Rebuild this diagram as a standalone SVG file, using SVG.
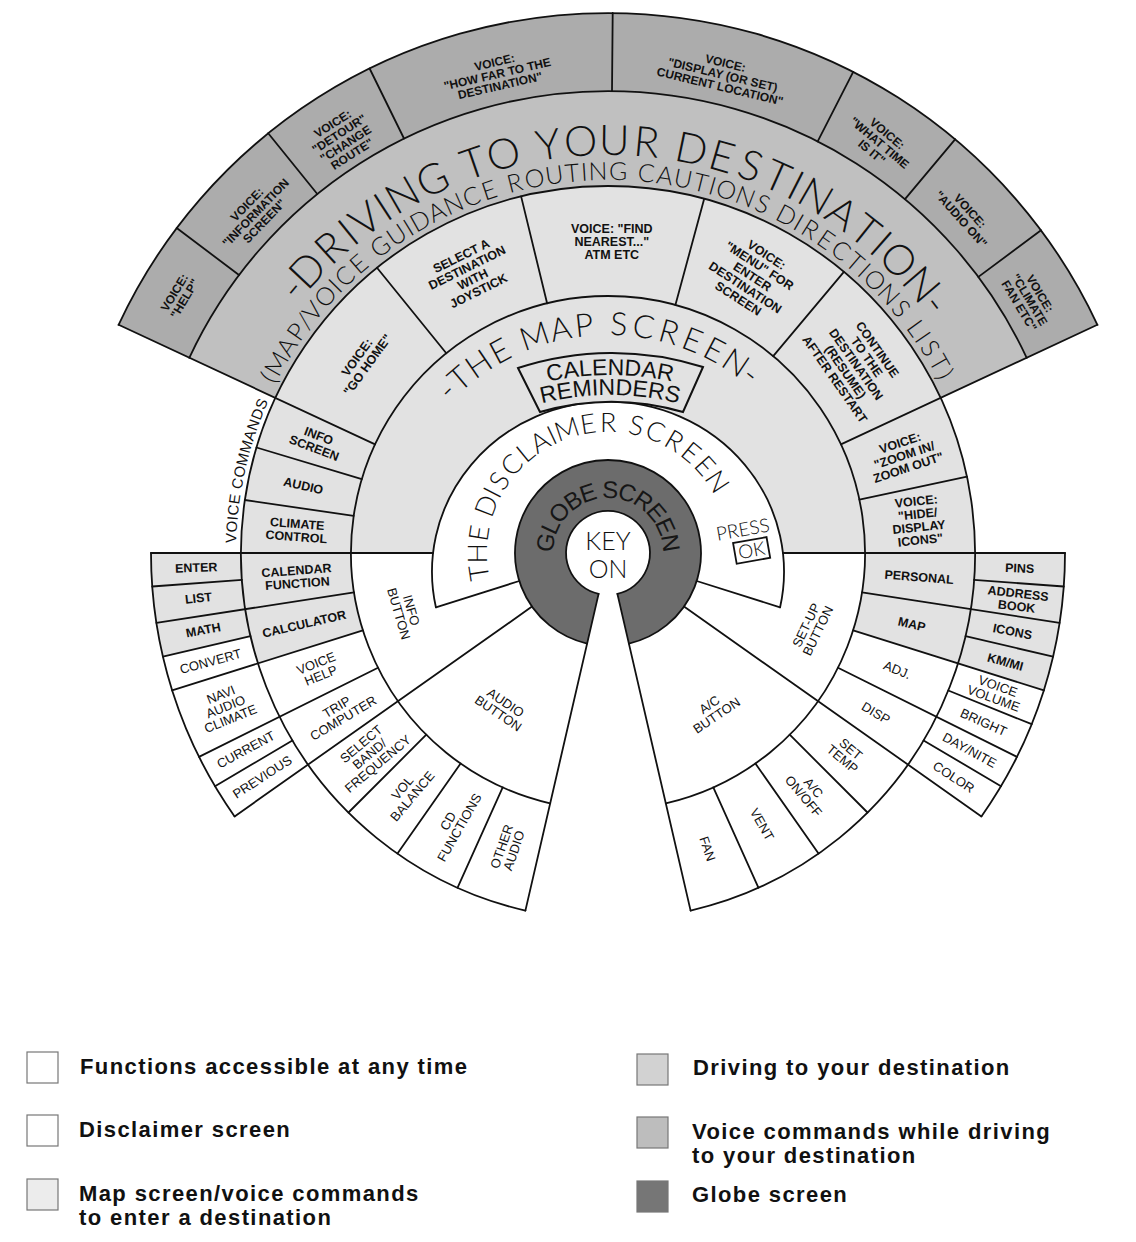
<svg xmlns="http://www.w3.org/2000/svg" width="1136" height="1242" viewBox="0 0 1136 1242">
<defs>
<style>
text{font-family:"Liberation Sans",Arial,sans-serif;fill:#111}
.b{font-size:12.5px;font-weight:bold;text-anchor:middle}
.r{font-size:13px;text-anchor:middle}
.vd{font-size:12px;font-weight:bold;text-anchor:middle}
.thin{font-family:Lato,"Liberation Sans",Arial,sans-serif;font-weight:300;text-anchor:middle}
.dr{font-size:42px}
.pa{font-size:25px}
.ms{font-size:32px}
.ds{font-size:27px}
.cal{font-size:23px;text-anchor:middle}
.gl{font-size:24px;text-anchor:middle;fill:#161616}
.vc{font-size:15px;text-anchor:middle}
.ln{fill:none;stroke:#111;stroke-width:1.8;stroke-linejoin:round;stroke-linecap:round}
.light{fill:#e2e2e2}
.drive{fill:#c0c0c0}
.voice{fill:#acacac}
.globe{fill:#6c6c6c}
.lg{font-size:22px;font-weight:bold;letter-spacing:1.4px}
.box{stroke:#777;stroke-width:1.2}
</style>
</defs>
<rect width="1136" height="1242" fill="#fff"/>

<g id="fills">
<path class="voice" d="M189.3,357.8 L118.6,324.8 A540 540 0 0 1 1097.4,324.8 L1026.7,357.8 A462 462 0 0 0 189.3,357.8Z"/>
<path class="drive" d="M275.4,397.9 L189.3,357.8 A462 462 0 0 1 1026.7,357.8 L940.6,397.9 A367 367 0 0 0 275.4,397.9Z"/>
<path class="light" d="M241,553 A367 367 0 0 1 975,553Z"/>
<path class="light" d="M362.9,630.3 L258,663.4 A367 367 0 0 1 241,553 L351,553 A257 257 0 0 0 362.9,630.3Z"/>
<path class="light" d="M250.5,636.2 L162.9,656.6 A457 457 0 0 1 151,553 L241,553 A367 367 0 0 0 250.5,636.2Z"/>
<path class="light" d="M865,553 L975,553 A367 367 0 0 1 958,663.4 L853.1,630.3 A257 257 0 0 0 865,553Z"/>
<path class="light" d="M975,553 L1065,553 A457 457 0 0 1 1043.9,690.4 L958,663.4 A367 367 0 0 0 975,553Z"/>
<path id="disclaimer" fill="#fff" d="M519.3,581 L435.9,607.3 A176 170 0 1 1 780.1,607.3 L696.7,581Z"/>
<path id="globe" class="globe" d="M587.1,643.6 A93 93 0 1 1 628.9,643.6 L617.4,593.9 A42 42 0 1 0 598.6,593.9Z"/>
<circle cx="608" cy="553" r="42" fill="#fff"/>
</g>

<g id="divisions" class="ln">
<path d="M118.6,324.8 A540 540 0 0 1 1097.4,324.8"/>
<path d="M189.3,357.8 A462 462 0 0 1 1026.7,357.8"/>
<path d="M525.4,910.6 A367 367 0 1 1 690.6,910.6"/>
<path d="M550.2,803.4 A257 257 0 1 1 665.8,803.4"/>
<path d="M234.6,816.4 A457 457 0 0 1 151,553"/>
<path d="M1065,553 A457 457 0 0 1 981.4,816.4"/>
<path d="M435.9,607.3 A176 170 0 1 1 780.1,607.3"/>
<path d="M587.1,643.6 A93 93 0 1 1 628.9,643.6"/>
<path d="M598.6,593.9 A42 42 0 1 1 617.4,593.9"/>
<path d="M375.1,444.4 L118.6,324.8 M840.9,444.4 L1097.4,324.8
M239,275 L176.7,228 M317.3,194 L268.2,133.3 M404,138.5 L369.6,68.5 M612,91 L612.7,13 M817.7,141.4 L853.2,71.9 M905,199.1 L955.1,139.3 M978.4,276.9 L1041,230.3
M353.7,515.9 L244.8,500 M361.8,479.1 L256.5,447.5 M446.3,353.3 L377,267.8 M547.1,303.3 L521.1,196.4 M675.4,305 L704.2,198.8 M773.2,356.1 L843.9,271.9 M859.4,499.6 L967,476.7
M974,579.9 L1063.8,586.5 M862,592.3 L1059.6,622.9 M965.5,636.2 L1053.1,656.6 M853.1,630.3 L1043.9,690.4 M948.3,690.5 L1031.7,724.2 M838,667.7 L1017,756.9 M923.6,740.4 L1001,786.3 M684,606.6 L981.4,816.4 M789.7,734.7 L867.5,812.5 M755.4,763.5 L818.5,853.6 M713.3,787.4 L758.4,887.7 M617.4,593.9 L690.6,910.6
M242,579.9 L152.2,586.5 M354,592.3 L156.4,622.9 M250.5,636.2 L162.9,656.6 M362.9,630.3 L172.1,690.4 M378,667.7 L199,756.9 M292.4,740.4 L215,786.3 M532,606.6 L234.6,816.4 M426.3,734.7 L348.5,812.5 M460.6,763.5 L397.5,853.6 M502.7,787.4 L457.6,887.7 M598.6,593.9 L525.4,910.6
M151,553 L433.1,553 M782.9,553 L1065,553
M519.3,581 L435.9,607.3 M696.7,581 L780.1,607.3"/>
</g>

<g id="calendar-reminders">
<path class="light" stroke="#111" stroke-width="2" d="M540,412 L518,368 A300 300 0 0 1 703,367 L683,412 A260 260 0 0 0 540,412Z"/>
<text class="cal" transform="translate(556,379.9) rotate(-10.36)">C</text>
<text class="cal" transform="translate(571.8,377.4) rotate(-7.31)">A</text>
<text class="cal" transform="translate(585.8,376) rotate(-4.63)">L</text>
<text class="cal" transform="translate(599.8,375.2) rotate(-1.94)">E</text>
<text class="cal" transform="translate(615.8,375.1) rotate(1.11)">N</text>
<text class="cal" transform="translate(632.4,375.8) rotate(4.28)">D</text>
<text class="cal" transform="translate(648.3,377.5) rotate(7.33)">A</text>
<text class="cal" transform="translate(664.1,379.9) rotate(10.38)">R</text>
<text class="cal" transform="translate(549.9,401.5) rotate(-12.4)">R</text>
<text class="cal" transform="translate(565.6,398.5) rotate(-9.13)">E</text>
<text class="cal" transform="translate(582.7,396.3) rotate(-5.6)">M</text>
<text class="cal" transform="translate(595.4,395.4) rotate(-2.99)">I</text>
<text class="cal" transform="translate(606.9,395) rotate(-0.64)">N</text>
<text class="cal" transform="translate(623.5,395.3) rotate(2.76)">D</text>
<text class="cal" transform="translate(639.4,396.5) rotate(6.03)">E</text>
<text class="cal" transform="translate(655.2,398.7) rotate(9.3)">R</text>
<text class="cal" transform="translate(670.9,401.7) rotate(12.56)">S</text>
</g>

<g id="driving-title">
<text class="thin dr" transform="translate(302.9,297.5) rotate(-50.05)">-</text>
<text class="thin dr" transform="translate(318.2,280.2) rotate(-46.72)">D</text>
<text class="thin dr" transform="translate(340.5,258.3) rotate(-42.21)">R</text>
<text class="thin dr" transform="translate(357.4,243.8) rotate(-39.04)">I</text>
<text class="thin dr" transform="translate(373.8,231.2) rotate(-36.04)">V</text>
<text class="thin dr" transform="translate(390.9,219.4) rotate(-33.04)">I</text>
<text class="thin dr" transform="translate(409.8,207.9) rotate(-29.87)">N</text>
<text class="thin dr" transform="translate(438.6,192.8) rotate(-25.19)">G</text>
<text class="thin dr" transform="translate(478.3,176.7) rotate(-19.02)">T</text>
<text class="thin dr" transform="translate(507.2,168) rotate(-14.67)">O</text>
<text class="thin dr" transform="translate(550.3,159.2) rotate(-8.33)">Y</text>
<text class="thin dr" transform="translate(581.5,155.9) rotate(-3.82)">O</text>
<text class="thin dr" transform="translate(614,155) rotate(0.86)">U</text>
<text class="thin dr" transform="translate(645.2,156.7) rotate(5.37)">R</text>
<text class="thin dr" transform="translate(688.7,163.3) rotate(11.7)">D</text>
<text class="thin dr" transform="translate(718,170.5) rotate(16.04)">E</text>
<text class="thin dr" transform="translate(745.6,179.5) rotate(20.22)">S</text>
<text class="thin dr" transform="translate(771.4,190.1) rotate(24.23)">T</text>
<text class="thin dr" transform="translate(789.1,198.6) rotate(27.06)">I</text>
<text class="thin dr" transform="translate(808.4,209.1) rotate(30.23)">N</text>
<text class="thin dr" transform="translate(833.8,225.3) rotate(34.57)">A</text>
<text class="thin dr" transform="translate(856.3,242) rotate(38.58)">T</text>
<text class="thin dr" transform="translate(871.4,254.6) rotate(41.42)">I</text>
<text class="thin dr" transform="translate(888.2,270.4) rotate(44.76)">O</text>
<text class="thin dr" transform="translate(910.3,294.1) rotate(49.43)">N</text>
<text class="thin dr" transform="translate(924.8,312.1) rotate(52.77)">-</text>
</g>

<g id="driving-subtitle">
<text class="thin pa" transform="translate(276.6,381.8) rotate(-62.68)">(</text>
<text class="thin pa" transform="translate(284,368.2) rotate(-60.3)">M</text>
<text class="thin pa" transform="translate(294.3,351.3) rotate(-57.28)">A</text>
<text class="thin pa" transform="translate(304,336.8) rotate(-54.58)">P</text>
<text class="thin pa" transform="translate(311.5,326.6) rotate(-52.63)">/</text>
<text class="thin pa" transform="translate(319.4,316.7) rotate(-50.68)">V</text>
<text class="thin pa" transform="translate(331.8,302.3) rotate(-47.76)">O</text>
<text class="thin pa" transform="translate(341.5,292) rotate(-45.6)">I</text>
<text class="thin pa" transform="translate(351,282.6) rotate(-43.54)">C</text>
<text class="thin pa" transform="translate(364.6,270.4) rotate(-40.73)">E</text>
<text class="thin pa" transform="translate(385.5,253.6) rotate(-36.61)">G</text>
<text class="thin pa" transform="translate(401.6,242.3) rotate(-33.6)">U</text>
<text class="thin pa" transform="translate(412.9,235.1) rotate(-31.54)">I</text>
<text class="thin pa" transform="translate(424.4,228.3) rotate(-29.48)">D</text>
<text class="thin pa" transform="translate(440.6,219.7) rotate(-26.67)">A</text>
<text class="thin pa" transform="translate(457.1,211.9) rotate(-23.87)">N</text>
<text class="thin pa" transform="translate(474.6,204.7) rotate(-20.96)">C</text>
<text class="thin pa" transform="translate(491.8,198.6) rotate(-18.15)">E</text>
<text class="thin pa" transform="translate(516.9,191.3) rotate(-14.14)">R</text>
<text class="thin pa" transform="translate(536.1,187) rotate(-11.12)">O</text>
<text class="thin pa" transform="translate(555.4,183.7) rotate(-8.1)">U</text>
<text class="thin pa" transform="translate(572.9,181.7) rotate(-5.4)">T</text>
<text class="thin pa" transform="translate(584.8,180.7) rotate(-3.56)">I</text>
<text class="thin pa" transform="translate(598.2,180.1) rotate(-1.5)">N</text>
<text class="thin pa" transform="translate(617.9,180.1) rotate(1.52)">G</text>
<text class="thin pa" transform="translate(645.3,181.9) rotate(5.74)">C</text>
<text class="thin pa" transform="translate(663.5,184.1) rotate(8.55)">A</text>
<text class="thin pa" transform="translate(681.4,187.3) rotate(11.35)">U</text>
<text class="thin pa" transform="translate(698.6,191.2) rotate(14.05)">T</text>
<text class="thin pa" transform="translate(710.2,194.3) rotate(15.9)">I</text>
<text class="thin pa" transform="translate(723.6,198.4) rotate(18.06)">O</text>
<text class="thin pa" transform="translate(742.2,205) rotate(21.08)">N</text>
<text class="thin pa" transform="translate(759.1,211.9) rotate(23.89)">S</text>
<text class="thin pa" transform="translate(782.5,223.3) rotate(27.9)">D</text>
<text class="thin pa" transform="translate(794.3,229.9) rotate(29.96)">I</text>
<text class="thin pa" transform="translate(805.8,236.8) rotate(32.01)">R</text>
<text class="thin pa" transform="translate(821,246.8) rotate(34.82)">E</text>
<text class="thin pa" transform="translate(835.7,257.5) rotate(37.63)">C</text>
<text class="thin pa" transform="translate(849.3,268.6) rotate(40.32)">T</text>
<text class="thin pa" transform="translate(858.5,276.6) rotate(42.17)">I</text>
<text class="thin pa" transform="translate(868.7,286.3) rotate(44.34)">O</text>
<text class="thin pa" transform="translate(882.3,300.2) rotate(47.35)">N</text>
<text class="thin pa" transform="translate(894.4,314.1) rotate(50.16)">S</text>
<text class="thin pa" transform="translate(909.2,333) rotate(53.85)">L</text>
<text class="thin pa" transform="translate(915.7,342.2) rotate(55.59)">I</text>
<text class="thin pa" transform="translate(922.8,352.9) rotate(57.55)">S</text>
<text class="thin pa" transform="translate(931.5,367.3) rotate(60.14)">T</text>
<text class="thin pa" transform="translate(937.6,378.5) rotate(62.09)">)</text>
</g>

<g id="map-screen-title">
<text class="thin ms" transform="translate(454.5,398.2) rotate(-44.74)">-</text>
<text class="thin ms" transform="translate(466.8,386.9) rotate(-40.37)">T</text>
<text class="thin ms" transform="translate(484.9,373.1) rotate(-34.38)">H</text>
<text class="thin ms" transform="translate(505.2,360.8) rotate(-28.14)">E</text>
<text class="thin ms" transform="translate(538.1,346.5) rotate(-18.71)">M</text>
<text class="thin ms" transform="translate(562.7,339.8) rotate(-12)">A</text>
<text class="thin ms" transform="translate(585.2,336.2) rotate(-6)">P</text>
<text class="thin ms" transform="translate(618.4,335.2) rotate(2.73)">S</text>
<text class="thin ms" transform="translate(642,337.7) rotate(8.97)">C</text>
<text class="thin ms" transform="translate(666,342.9) rotate(15.43)">R</text>
<text class="thin ms" transform="translate(688.5,350.4) rotate(21.67)">E</text>
<text class="thin ms" transform="translate(709.2,359.9) rotate(27.67)">E</text>
<text class="thin ms" transform="translate(729.6,372) rotate(33.9)">N</text>
<text class="thin ms" transform="translate(744.4,382.9) rotate(38.73)">-</text>
</g>

<g id="disclaimer-title">
<text class="thin ds" transform="translate(488.4,571.2) rotate(-98.64)">T</text>
<text class="thin ds" transform="translate(487,553.3) rotate(-90.12)">H</text>
<text class="thin ds" transform="translate(488.4,534.6) rotate(-81.25)">E</text>
<text class="thin ds" transform="translate(495.2,509.3) rotate(-68.82)">D</text>
<text class="thin ds" transform="translate(500.7,497) rotate(-62.43)">I</text>
<text class="thin ds" transform="translate(507.2,486) rotate(-56.39)">S</text>
<text class="thin ds" transform="translate(518.7,471.3) rotate(-47.52)">C</text>
<text class="thin ds" transform="translate(531.2,459.5) rotate(-39.35)">L</text>
<text class="thin ds" transform="translate(544.7,449.9) rotate(-31.54)">A</text>
<text class="thin ds" transform="translate(555.9,443.8) rotate(-25.5)">I</text>
<text class="thin ds" transform="translate(569.8,438.2) rotate(-18.4)">M</text>
<text class="thin ds" transform="translate(589.5,433.4) rotate(-8.81)">E</text>
<text class="thin ds" transform="translate(608.1,432) rotate(0.07)">R</text>
<text class="thin ds" transform="translate(634.2,434.9) rotate(12.5)">S</text>
<text class="thin ds" transform="translate(652.1,440.3) rotate(21.37)">C</text>
<text class="thin ds" transform="translate(669.6,448.9) rotate(30.6)">R</text>
<text class="thin ds" transform="translate(685,459.7) rotate(39.48)">E</text>
<text class="thin ds" transform="translate(697.9,472) rotate(48)">E</text>
<text class="thin ds" transform="translate(709.3,486.9) rotate(56.88)">N</text>
</g>

<g id="globe-title">
<text class="gl" transform="translate(553.8,543.7) rotate(-80.3)">G</text>
<text class="gl" transform="translate(558.1,529.9) rotate(-65.2)">L</text>
<text class="gl" transform="translate(565.8,517.7) rotate(-50.1)">O</text>
<text class="gl" transform="translate(577.6,507.2) rotate(-33.6)">B</text>
<text class="gl" transform="translate(590.5,500.8) rotate(-18.5)">E</text>
<text class="gl" transform="translate(609.9,498) rotate(2)">S</text>
<text class="gl" transform="translate(624.8,500.6) rotate(17.8)">C</text>
<text class="gl" transform="translate(639,507.6) rotate(34.3)">R</text>
<text class="gl" transform="translate(650.2,517.7) rotate(50.1)">E</text>
<text class="gl" transform="translate(657.9,529.9) rotate(65.2)">E</text>
<text class="gl" transform="translate(662.3,544.4) rotate(81)">N</text>
</g>

<g id="voice-commands-title">
<text class="vc" transform="translate(236.3,538.3) rotate(-87.73)">V</text>
<text class="vc" transform="translate(236.9,526.9) rotate(-85.98)">O</text>
<text class="vc" transform="translate(237.6,518.6) rotate(-84.69)">I</text>
<text class="vc" transform="translate(238.4,510.6) rotate(-83.46)">C</text>
<text class="vc" transform="translate(239.8,499.8) rotate(-81.77)">E</text>
<text class="vc" transform="translate(242.4,484.4) rotate(-79.37)">C</text>
<text class="vc" transform="translate(244.7,472.9) rotate(-77.56)">O</text>
<text class="vc" transform="translate(247.6,460.7) rotate(-75.63)">M</text>
<text class="vc" transform="translate(251.1,448.1) rotate(-73.62)">M</text>
<text class="vc" transform="translate(254.6,436.9) rotate(-71.81)">A</text>
<text class="vc" transform="translate(258.1,426.6) rotate(-70.13)">N</text>
<text class="vc" transform="translate(262.2,416) rotate(-68.39)">D</text>
<text class="vc" transform="translate(266.3,405.9) rotate(-66.71)">S</text>
</g>

<g id="key-on">
<text class="thin" font-size="25" x="608" y="550">KEY</text>
<text class="thin" font-size="25" x="608" y="578">ON</text>
</g>

<g id="press-ok" transform="translate(744,536) rotate(-10)">
<text class="thin" font-size="19" x="0" y="0">PRESS</text>
<rect x="-12" y="5" width="34" height="21" fill="none" stroke="#111" stroke-width="1.8"/>
<text class="thin" font-size="19" x="5" y="22">OK</text>
</g>

<g id="voice-driving-labels">
<text class="vd" transform="translate(179.4,295.5) rotate(-59)"><tspan x="0" y="-1.7">VOICE:</tspan><tspan x="0" dy="12">"HELP"</tspan></text>
<text class="vd" transform="translate(255.5,212.6) rotate(-46)"><tspan x="0" y="-7.7">VOICE:</tspan><tspan x="0" dy="12">"INFORMATION</tspan><tspan x="0" dy="12">SCREEN"</tspan></text>
<text class="vd" transform="translate(342.3,138.7) rotate(-32.7)"><tspan x="0" y="-13.7">VOICE:</tspan><tspan x="0" dy="12">"DETOUR"</tspan><tspan x="0" dy="12">"CHANGE</tspan><tspan x="0" dy="12">ROUTE"</tspan></text>
<text class="vd" transform="translate(497.3,73.8) rotate(-13)"><tspan x="0" y="-7.7">VOICE:</tspan><tspan x="0" dy="12">"HOW FAR TO THE</tspan><tspan x="0" dy="12">DESTINATION"</tspan></text>
<text class="vd" transform="translate(722.8,74.6) rotate(13.5)"><tspan x="0" y="-7.7">VOICE:</tspan><tspan x="0" dy="12">"DISPLAY (OR SET)</tspan><tspan x="0" dy="12">CURRENT LOCATION"</tspan></text>
<text class="vd" transform="translate(879.6,142.7) rotate(40)"><tspan x="0" y="-7.7">VOICE:</tspan><tspan x="0" dy="12">"WHAT TIME</tspan><tspan x="0" dy="12">IS IT"</tspan></text>
<text class="vd" transform="translate(965.7,215) rotate(48)"><tspan x="0" y="-1.7">VOICE:</tspan><tspan x="0" dy="12">"AUDIO ON"</tspan></text>
<text class="vd" transform="translate(1029.7,299.6) rotate(59)"><tspan x="0" y="-7.7">VOICE:</tspan><tspan x="0" dy="12">"CLIMATE</tspan><tspan x="0" dy="12">FAN ETC"</tspan></text>
</g>

<g id="map-voice-labels">
<text class="b" transform="translate(296.8,530.1) rotate(4.2)"><tspan x="0" y="-2">CLIMATE</tspan><tspan x="0" dy="13">CONTROL</tspan></text>
<text class="b" transform="translate(303.4,485.5) rotate(12.5)"><tspan x="0" y="4.5">AUDIO</tspan></text>
<text class="b" transform="translate(316.5,441.7) rotate(20.9)"><tspan x="0" y="-2">INFO</tspan><tspan x="0" dy="13">SCREEN</tspan></text>
<text class="b" transform="translate(362.1,360.9) rotate(-54)"><tspan x="0" y="-2">VOICE:</tspan><tspan x="0" dy="13">"GO HOME"</tspan></text>
<text class="b" transform="translate(469.8,273.2) rotate(-26.3)"><tspan x="0" y="-15">SELECT A</tspan><tspan x="0" dy="13">DESTINATION</tspan><tspan x="0" dy="13">WITH</tspan><tspan x="0" dy="13">JOYSTICK</tspan></text>
<text class="b" transform="translate(611.8,241)"><tspan x="0" y="-8.5">VOICE: "FIND</tspan><tspan x="0" dy="13">NEAREST..."</tspan><tspan x="0" dy="13">ATM ETC</tspan></text>
<text class="b" transform="translate(752.5,276.5) rotate(33)"><tspan x="0" y="-21.5">VOICE:</tspan><tspan x="0" dy="13">"MENU" FOR</tspan><tspan x="0" dy="13">ENTER</tspan><tspan x="0" dy="13">DESTINATION</tspan><tspan x="0" dy="13">SCREEN</tspan></text>
<text class="b" font-size="12" transform="translate(856.3,364.2) rotate(55)"><tspan x="0" y="-21.5">CONTINUE</tspan><tspan x="0" dy="13">TO THE</tspan><tspan x="0" dy="13">DESTINATION</tspan><tspan x="0" dy="13">(RESUME)</tspan><tspan x="0" dy="13">AFTER RESTART</tspan></text>
<text class="b" transform="translate(904.2,455) rotate(-18.3)"><tspan x="0" y="-8.5">VOICE:</tspan><tspan x="0" dy="13">"ZOOM IN/</tspan><tspan x="0" dy="13">ZOOM OUT"</tspan></text>
<text class="b" transform="translate(918.3,520.4) rotate(-6)"><tspan x="0" y="-15">VOICE:</tspan><tspan x="0" dy="13">"HIDE/</tspan><tspan x="0" dy="13">DISPLAY</tspan><tspan x="0" dy="13">ICONS"</tspan></text>
<text class="b" transform="translate(919.1,576.9) rotate(4.4)"><tspan x="0" y="4.5">PERSONAL</tspan></text>
<text class="b" transform="translate(911.8,624) rotate(13)"><tspan x="0" y="4.5">MAP</tspan></text>
<text class="b" transform="translate(296.9,576.7) rotate(-4.35)"><tspan x="0" y="-2">CALENDAR</tspan><tspan x="0" dy="13">FUNCTION</tspan></text>
<text class="b" transform="translate(304.1,623.7) rotate(-13.1)"><tspan x="0" y="4.5">CALCULATOR</tspan></text>
<text class="b" transform="translate(196.2,567.4) rotate(-2)"><tspan x="0" y="4.5">ENTER</tspan></text>
<text class="b" transform="translate(198.4,597.8) rotate(-6.25)"><tspan x="0" y="4.5">LIST</tspan></text>
<text class="b" transform="translate(203.2,629.8) rotate(-10.75)"><tspan x="0" y="4.5">MATH</tspan></text>
<text class="b" transform="translate(1019.7,568.1) rotate(2.1)"><tspan x="0" y="4.5">PINS</tspan></text>
<text class="b" transform="translate(1017.4,599.6) rotate(6.5)"><tspan x="0" y="-2">ADDRESS</tspan><tspan x="0" dy="13">BOOK</tspan></text>
<text class="b" transform="translate(1012.5,631.3) rotate(11)"><tspan x="0" y="4.5">ICONS</tspan></text>
<text class="b" transform="translate(1005.4,661.7) rotate(15.3)"><tspan x="0" y="4.5">KM/MI</tspan></text>
</g>

<g id="function-labels">
<text class="r" transform="translate(210.5,661.4) rotate(-15.25)"><tspan x="0" y="4.5">CONVERT</tspan></text>
<text class="r" transform="translate(225.7,706.7) rotate(-21.9)"><tspan x="0" y="-8.5">NAVI</tspan><tspan x="0" dy="13">AUDIO</tspan><tspan x="0" dy="13">CLIMATE</tspan></text>
<text class="r" transform="translate(245.9,749.6) rotate(-28.5)"><tspan x="0" y="4.5">CURRENT</tspan></text>
<text class="r" transform="translate(262.3,777) rotate(-33)"><tspan x="0" y="4.5">PREVIOUS</tspan></text>
<text class="r" transform="translate(318.5,669.4) rotate(-21.9)"><tspan x="0" y="-2">VOICE</tspan><tspan x="0" dy="13">HELP</tspan></text>
<text class="r" transform="translate(339.9,712.6) rotate(-30.75)"><tspan x="0" y="-2">TRIP</tspan><tspan x="0" dy="13">COMPUTER</tspan></text>
<text class="r" transform="translate(369.5,753.9) rotate(-40)"><tspan x="0" y="-8.5">SELECT</tspan><tspan x="0" dy="13">BAND/</tspan><tspan x="0" dy="13">FREQUENCY</tspan></text>
<text class="r" transform="translate(407.4,792) rotate(-50)"><tspan x="0" y="-2">VOL</tspan><tspan x="0" dy="13">BALANCE</tspan></text>
<text class="r" transform="translate(453.7,824.3) rotate(-60.35)"><tspan x="0" y="-2">CD</tspan><tspan x="0" dy="13">FUNCTIONS</tspan></text>
<text class="r" transform="translate(507.8,848.5) rotate(-71.25)"><tspan x="0" y="-2">OTHER</tspan><tspan x="0" dy="13">AUDIO</tspan></text>
<text class="r" transform="translate(897.3,669.9) rotate(22)"><tspan x="0" y="4.5">ADJ.</tspan></text>
<text class="r" transform="translate(875.9,713) rotate(31)"><tspan x="0" y="4.5">DISP</tspan></text>
<text class="r" transform="translate(846.6,754) rotate(40)"><tspan x="0" y="-2">SET</tspan><tspan x="0" dy="13">TEMP</tspan></text>
<text class="r" transform="translate(808.5,792) rotate(50)"><tspan x="0" y="-2">A/C</tspan><tspan x="0" dy="13">ON/OFF</tspan></text>
<text class="r" transform="translate(762,824.3) rotate(60.4)"><tspan x="0" y="4.5">VENT</tspan></text>
<text class="r" transform="translate(707.5,848.7) rotate(71.4)"><tspan x="0" y="4.5">FAN</tspan></text>
<text class="r" transform="translate(995.7,692.2) rotate(19.75)"><tspan x="0" y="-2">VOICE</tspan><tspan x="0" dy="13">VOLUME</tspan></text>
<text class="r" transform="translate(983.6,722.2) rotate(24.25)"><tspan x="0" y="4.5">BRIGHT</tspan></text>
<text class="r" transform="translate(969.6,750.2) rotate(28.6)"><tspan x="0" y="4.5">DAY/NITE</tspan></text>
<text class="r" transform="translate(953.7,777.1) rotate(33)"><tspan x="0" y="4.5">COLOR</tspan></text>
<text class="r" transform="translate(405,612) rotate(74)"><tspan x="0" y="-2">INFO</tspan><tspan x="0" dy="13">BUTTON</tspan></text>
<text class="r" transform="translate(502,708) rotate(34)"><tspan x="0" y="-2">AUDIO</tspan><tspan x="0" dy="13">BUTTON</tspan></text>
<text class="r" transform="translate(713,710) rotate(-34)"><tspan x="0" y="-2">A/C</tspan><tspan x="0" dy="13">BUTTON</tspan></text>
<text class="r" transform="translate(812,628) rotate(-64)"><tspan x="0" y="-2">SET-UP</tspan><tspan x="0" dy="13">BUTTON</tspan></text>
</g>

<g id="legend">
<rect class="box" x="27" y="1052" width="31" height="31" fill="#fff"/>
<text class="lg" x="80" y="1074">Functions accessible at any time</text>
<rect class="box" x="27" y="1115" width="31" height="31" fill="#fff"/>
<text class="lg" x="79" y="1137">Disclaimer screen</text>
<rect class="box" x="27" y="1179" width="31" height="31" fill="#ececec"/>
<text class="lg" x="79" y="1201">Map screen/voice commands</text>
<text class="lg" x="79" y="1225">to enter a destination</text>
<rect class="box" x="637" y="1054" width="31" height="31" fill="#d2d2d2"/>
<text class="lg" x="693" y="1075">Driving to your destination</text>
<rect class="box" x="637" y="1117" width="31" height="31" fill="#bdbdbd"/>
<text class="lg" x="692" y="1139">Voice commands while driving</text>
<text class="lg" x="692" y="1163">to your destination</text>
<rect class="box" x="637" y="1181" width="31" height="31" fill="#767676"/>
<text class="lg" x="692" y="1202">Globe screen</text>
</g>
</svg>
